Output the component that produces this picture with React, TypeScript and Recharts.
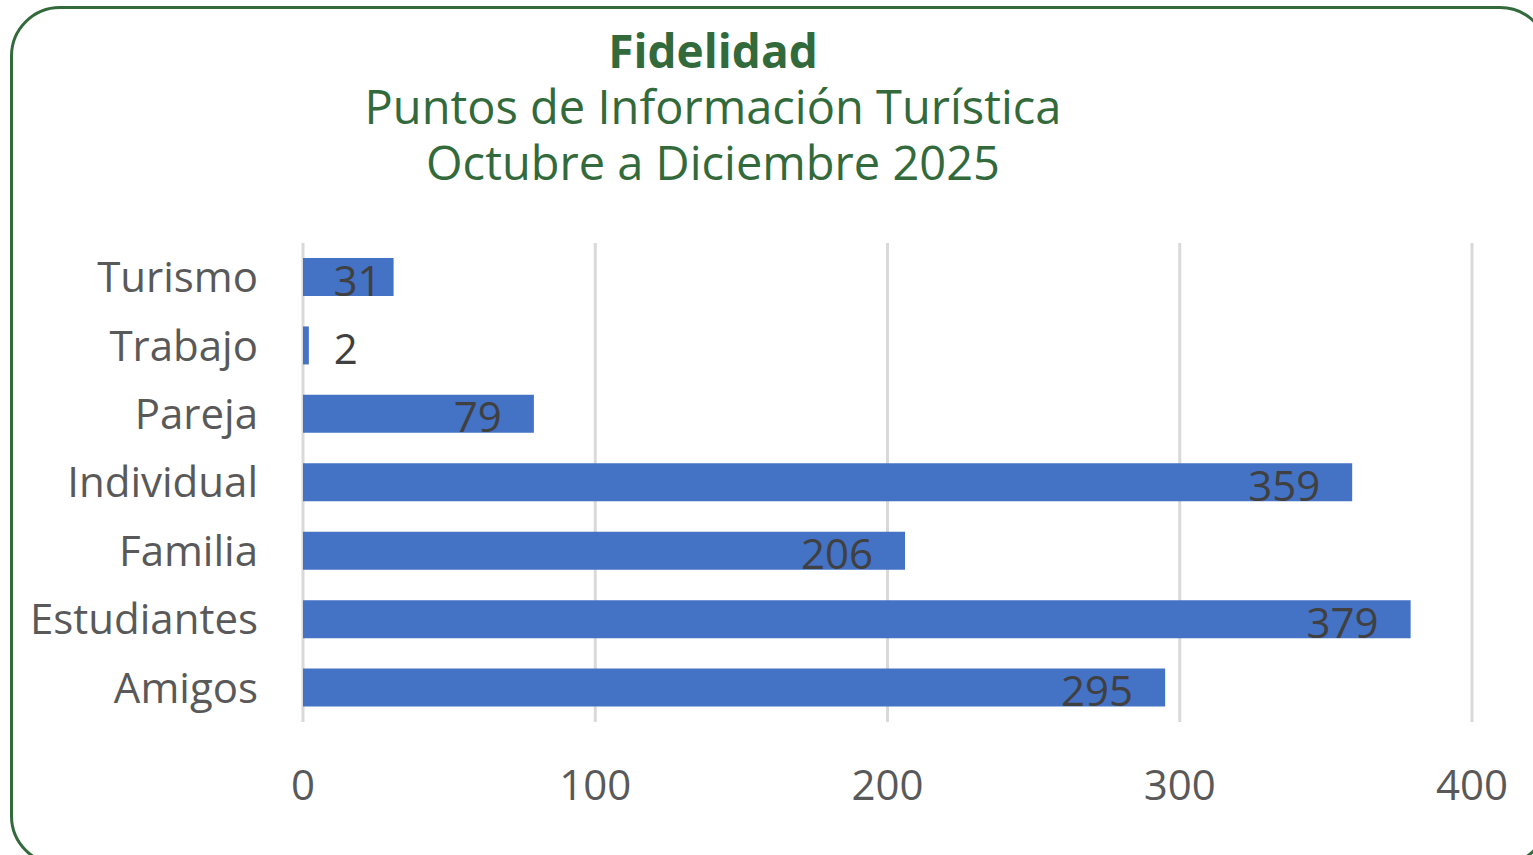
import React from 'react'
import { BarChart, Bar, XAxis, YAxis, CartesianGrid, LabelList } from 'recharts'

const categories = ['Turismo', 'Trabajo', 'Pareja', 'Individual', 'Familia', 'Estudiantes', 'Amigos']
const values = [31, 2, 79, 359, 206, 379, 295]
const xTicks = [0, 100, 200, 300, 400]

const data = categories.map((name, i) => ({ name, value: values[i] }))

const FONT = '"Open Sans", sans-serif'
const GREEN = '#336a3b'

function ValueLabel(props: any) {
  const { x, y, width, height, value } = props
  const textW = String(value).length * 24
  const end = x + width
  let tx: number
  let anchor: 'start' | 'end' = 'end'
  if (width < textW + 10) {
    // no room inside the bar, put it after
    tx = end + 25
    anchor = 'start'
  } else if (width < textW + 70) {
    tx = end - 12
  } else {
    tx = end - 32
  }
  return (
    <text x={tx} y={y + height / 2 + 2} textAnchor={anchor} dominantBaseline="central"
      fill="#404040" fontSize={42} fontFamily={FONT}>
      {value}
    </text>
  )
}

export default function App() {
  return (
    <div style={{ position: 'fixed', left: 0, top: 0, width: 1533, height: 855, overflow: 'hidden', background: '#fff' }}>
      <div style={{
        position: 'absolute', left: 10, top: 6, width: 1540, height: 860,
        border: `3px solid ${GREEN}`, borderRadius: 50, boxSizing: 'border-box'
      }} />
      <div style={{ position: 'absolute', left: 0, top: 22, width: 1426, textAlign: 'center', color: GREEN, fontFamily: FONT, lineHeight: '56px' }}>
        <div style={{ fontSize: 46, fontWeight: 700 }}>Fidelidad</div>
        <div style={{ fontSize: 47 }}>Puntos de Información Turística</div>
        <div style={{ fontSize: 47 }}>Octubre a Diciembre 2025</div>
      </div>
      <div style={{ position: 'absolute', left: 0, top: 0 }}>
        <BarChart width={1533} height={855} data={data} layout="vertical"
          margin={{ top: 243, right: 61, bottom: 0, left: 43 }} barSize={38}>
          <CartesianGrid horizontal={false} stroke="#d9d9d9" strokeWidth={3} />
          <XAxis type="number" domain={[0, 400]} ticks={xTicks} axisLine={false} tickLine={false}
            tickSize={0} tickMargin={48} height={133}
            tick={{ fill: '#595959', fontSize: 42, fontFamily: FONT }} />
          <YAxis type="category" dataKey="name" width={260} axisLine={false} tickLine={false}
            tickSize={0} tickMargin={45}
            tick={{ fill: '#595959', fontSize: 42, fontFamily: FONT }} />
          <Bar dataKey="value" fill="#4472c4" isAnimationActive={false}>
            <LabelList dataKey="value" content={ValueLabel} />
          </Bar>
        </BarChart>
      </div>
    </div>
  )
}
